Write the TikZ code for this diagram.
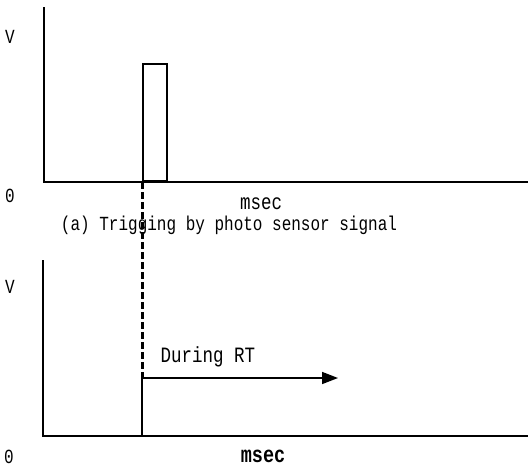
\documentclass[tikz,border=0pt]{standalone}
\usepackage{fontspec}
\setmainfont{Liberation Mono}
\usetikzlibrary{arrows.meta}
\newcommand{\tall}[1]{\scalebox{1}[1.25]{#1}}
\begin{document}
\begin{tikzpicture}[x=1pt,y=-1pt,
  axis/.style={line width=1.8pt},
  lbl/.style={inner sep=0pt, font=\fontsize{16}{16}\selectfont},
  pulse/.style={draw, line width=1.8pt},
  trig/.style={line width=3pt, dash pattern=on 7pt off 3pt},
  rt/.style={line width=1.6pt, -{Triangle[length=16pt,width=12pt]}}]
\useasboundingbox (0,0) rectangle (529,469);
% top graph
\coordinate (t0) at (44,182);
\coordinate (ttop) at (44,7);
\coordinate (tend) at (528,182);
\draw[axis] (ttop) -- (t0) -- (tend);
\node[pulse, minimum width=24pt, minimum height=117pt, inner sep=0pt, anchor=south west] (p) at (142,182) {};
\node[lbl] (v1) at (10,37) {\tall{V}};
\node[lbl] (o1) at (10,196) {\tall{0}};
\node[lbl, font=\fontsize{17.5}{17.5}\selectfont] (m1) at (261,204) {\tall{msec}};
\node[lbl] (cap) at (229,225) {\tall{(a) Trigging by photo sensor signal}};
% bottom graph
\coordinate (b0) at (43,436);
\coordinate (btop) at (43,260);
\coordinate (bend) at (528,436);
\draw[axis] (btop) -- (b0) -- (bend);
\coordinate (trg) at (142,378);
\coordinate (trgb) at (142,436);
\coordinate (rtend) at (338,378);
\draw[trig] (p.south west) -- (trg);
\draw[line width=1.6pt] (trg) -- (trgb);
\draw[rt] (trg) -- (rtend);
\node[lbl] (v2) at (10,287) {\tall{V}};
\node[lbl] (o2) at (9,457) {\tall{0}};
\node[lbl, font=\fontsize{18.5}{18.5}\selectfont\bfseries] (m2) at (263,456) {\tall{msec}};
\node[lbl, font=\fontsize{17.5}{17.5}\selectfont] (drt) at (208,357) {\tall{During RT}};
\end{tikzpicture}
\end{document}
